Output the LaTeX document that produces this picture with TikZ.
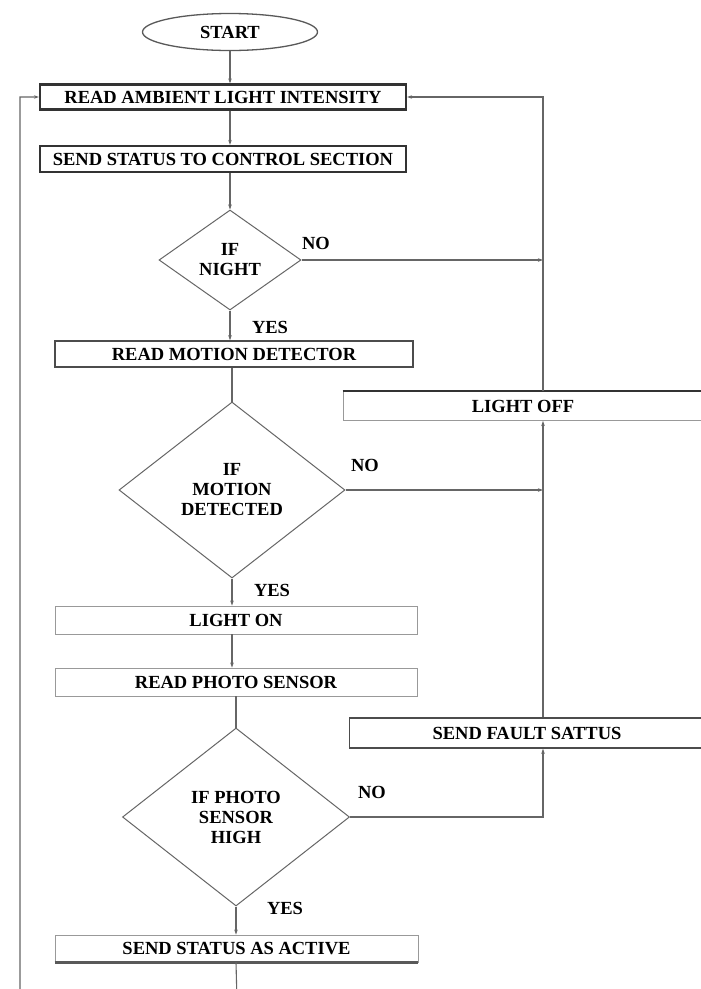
\documentclass[tikz,border=0pt]{standalone}
\usepackage{fontspec}
\setmainfont{Liberation Serif}
\usetikzlibrary{shapes.geometric,arrows.meta}
\begin{document}
\begin{tikzpicture}[x=1pt,y=-1pt]
\tikzset{
 base/.style={font=\fontsize{18.5}{20}\selectfont\bfseries, text=black, inner sep=0pt},
 boxthick/.style={base, rectangle, draw=black!80, line width=2.2pt},
 boxmed/.style={base, rectangle, draw=black!70, line width=1.5pt},
 boxthin/.style={base, rectangle, draw=black!40, line width=0.9pt},
 decision/.style={base, diamond, draw=black!60, line width=1pt, align=center},
 terminal/.style={base, ellipse, draw=black!65, line width=1.3pt},
 lbl/.style={font=\fontsize{18.5}{20}\selectfont\bfseries, text=black, inner sep=0pt},
 conn/.style={draw=black!60, line width=1.1pt},
 arr/.style={conn, -{Stealth[length=5pt,width=3.5pt]}},
}
\useasboundingbox (0,0) rectangle (701,989);
\clip (0,0) rectangle (701,989);
\fill[white] (0,0) rectangle (701,989);

\node[terminal, minimum width=175pt, minimum height=37pt] (start) at (230,32) {START};
\node[boxthick, minimum width=366pt, minimum height=25pt] (read) at (223,97) {READ AMBIENT LIGHT INTENSITY};
\node[boxthick, minimum width=366pt, minimum height=26pt] (send) at (223,159) {SEND STATUS TO CONTROL SECTION};
\node[decision, minimum width=142pt, minimum height=100pt] (night) at (230,260) {IF\\NIGHT};
\node[boxmed, minimum width=358pt, minimum height=26pt] (motdet) at (234,354) {READ MOTION DETECTOR};
\node[decision, minimum width=226pt, minimum height=176pt] (motion) at (232,490) {IF\\MOTION\\DETECTED};
\node[boxthin, minimum width=362pt, minimum height=28pt] (lighton) at (236,620) {LIGHT ON};
\node[boxthin, minimum width=362pt, minimum height=28pt] (photoread) at (236,682) {READ PHOTO SENSOR};
\node[decision, minimum width=227pt, minimum height=178pt] (photo) at (236,817) {IF PHOTO\\SENSOR\\HIGH};
\node[boxthin, minimum width=363pt, minimum height=27pt] (active) at (236.5,948.5) {SEND STATUS AS ACTIVE};
\node[boxthin, minimum width=360pt, minimum height=29pt] (lightoff) at (523,406) {LIGHT OFF};
\node[boxmed, minimum width=355pt, minimum height=30pt] (fault) at (527,733) {SEND FAULT SATTUS};

\draw[black!80, line width=2pt] (lightoff.north west) -- (lightoff.north east);
\draw[black!65, line width=3.5pt] (active.south west) -- (active.south east);

\coordinate (rtop) at (543,97);
\coordinate (below) at (238,1040);
\coordinate (lx) at (20,1040);

\draw[arr] (start.south) -- (start.south |- read.north);
\draw[arr] (start.south |- read.south) -- (start.south |- send.north);
\draw[arr] (start.south |- send.south) -- (night.north);
\draw[arr] (night.east) -- (night.east -| rtop);
\draw[arr] (night.south) -- (night.south |- motdet.north);
\draw[conn] (motion.north |- motdet.south) -- (motion.north);
\draw[arr] (motion.east) -- (motion.east -| rtop);
\draw[arr] (motion.south) -- (motion.south |- lighton.north);
\draw[arr] (motion.south |- lighton.south) -- (motion.south |- photoread.north);
\draw[conn] (photo.north |- photoread.south) -- (photo.north);
\draw[arr] (photo.south) -- (photo.south |- active.north);
\draw[arr] (photo.south |- active.south) -- (below) -- (lx) |- (read.west);
\draw[arr] (photo.east) -| (rtop |- fault.south);
\draw[arr] (rtop |- fault.north) -- (rtop |- lightoff.south);
\draw[arr] (rtop |- lightoff.north) -- (rtop) -- (read.east);

\node[lbl] (no1) at (316,243) {NO};
\node[lbl] (yes1) at (270,327) {YES};
\node[lbl] (no2) at (365,465) {NO};
\node[lbl] (yes2) at (272,590) {YES};
\node[lbl] (no3) at (372,792) {NO};
\node[lbl] (yes3) at (285,908) {YES};
\end{tikzpicture}
\end{document}
